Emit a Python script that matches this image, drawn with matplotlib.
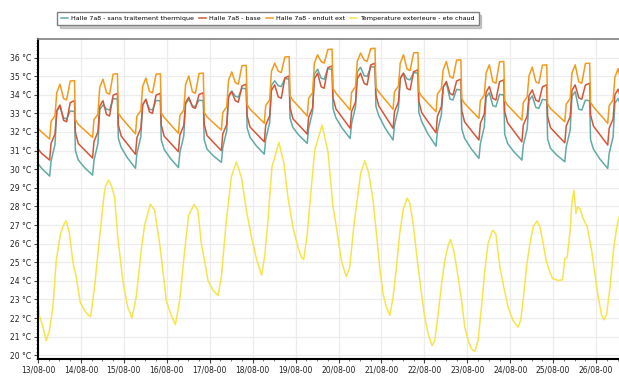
import matplotlib
matplotlib.use('Agg')
import matplotlib.pyplot as plt
import numpy as np

plt.rcParams['font.family'] = ['DejaVu Sans']

# sample hours inside each day for the hall series (min, ramp, jump, peak 1, dip, peak 2, drop, decay)
day_hours = [6.5, 7.3, 9.5, 10.5, 12.3, 14.3, 16.0, 18.0, 20.4, 20.9, 22.5, 26.0]
hours = [0, 2] + [d * 24 + h for d in range(13) for h in day_hours] + [13 * 24 + h for h in day_hours[:6]]

sans_traitement = [30.3, 30.05,
    29.63, 30.43, 31.33, 33.11, 33.36, 32.75, 32.70, 33.13, 33.10, 31.00, 30.50, 30.09,
    29.68, 30.48, 31.38, 33.20, 33.45, 33.23, 33.18, 33.80, 33.77, 31.67, 31.17, 30.61,
    30.05, 30.85, 31.75, 33.47, 33.72, 33.23, 33.18, 33.70, 33.67, 31.57, 31.07, 30.58,
    30.09, 30.89, 31.79, 33.51, 33.76, 33.41, 33.36, 33.71, 33.68, 31.58, 31.08, 30.72,
    30.37, 31.17, 32.07, 33.95, 34.20, 33.92, 33.87, 34.35, 34.32, 32.22, 31.72, 31.26,
    30.81, 31.61, 32.51, 34.50, 34.75, 34.49, 34.44, 34.87, 34.84, 32.74, 32.24, 31.81,
    31.39, 32.19, 33.09, 35.12, 35.37, 34.89, 34.84, 35.40, 35.37, 33.27, 32.77, 32.21,
    31.65, 32.45, 33.35, 35.23, 35.48, 35.03, 34.98, 35.51, 35.48, 33.38, 32.88, 32.22,
    31.57, 32.37, 33.27, 34.91, 35.16, 34.85, 34.80, 35.19, 35.16, 33.06, 32.56, 31.90,
    31.24, 32.04, 32.94, 34.41, 34.66, 33.77, 33.72, 34.29, 34.26, 32.16, 31.66, 31.12,
    30.58, 31.38, 32.28, 33.86, 34.11, 33.41, 33.36, 34.02, 33.99, 31.89, 31.39, 30.94,
    30.49, 31.29, 32.19, 33.69, 33.94, 33.32, 33.27, 33.75, 33.72, 31.62, 31.12, 30.76,
    30.40, 31.20, 32.10, 33.92, 34.17, 33.23, 33.18, 33.71, 33.68, 31.58, 31.08, 30.56,
    30.04, 30.84, 31.74, 33.55, 33.80, 33.30]

base = [31.1, 30.85,
    30.49, 31.39, 31.89, 33.15, 33.45, 32.63, 32.55, 33.58, 33.68, 31.98, 31.38, 31.04,
    30.60, 31.50, 32.00, 33.38, 33.68, 32.94, 32.86, 33.98, 34.08, 32.38, 31.78, 31.35,
    30.80, 31.70, 32.20, 33.46, 33.76, 33.08, 33.00, 33.98, 34.08, 32.38, 31.78, 31.41,
    30.94, 31.84, 32.34, 33.57, 33.87, 33.35, 33.27, 34.01, 34.11, 32.41, 31.81, 31.45,
    31.00, 31.90, 32.40, 33.87, 34.17, 33.68, 33.60, 34.47, 34.57, 32.87, 32.27, 31.92,
    31.47, 32.37, 32.87, 34.23, 34.53, 33.89, 33.81, 34.91, 35.01, 33.31, 32.71, 32.35,
    31.89, 32.79, 33.29, 34.86, 35.16, 34.43, 34.35, 35.45, 35.55, 33.85, 33.25, 32.79,
    32.20, 33.10, 33.60, 34.86, 35.16, 34.61, 34.53, 35.60, 35.70, 34.00, 33.40, 32.87,
    32.20, 33.10, 33.60, 34.86, 35.16, 34.34, 34.26, 35.24, 35.34, 33.64, 33.04, 32.56,
    31.96, 32.86, 33.36, 34.41, 34.71, 34.07, 33.99, 34.74, 34.84, 33.14, 32.54, 32.11,
    31.57, 32.47, 32.97, 34.14, 34.44, 33.80, 33.72, 34.70, 34.80, 33.10, 32.50, 32.05,
    31.47, 32.37, 32.87, 33.96, 34.26, 33.71, 33.63, 34.43, 34.53, 32.83, 32.23, 31.87,
    31.42, 32.32, 32.82, 34.23, 34.53, 33.84, 33.76, 34.52, 34.62, 32.92, 32.32, 31.87,
    31.30, 32.20, 32.70, 34.00, 34.30, 33.70]

enduit_ext = [32.2, 32.0,
    31.62, 32.57, 32.87, 34.12, 34.57, 33.80, 33.72, 34.74, 34.76, 32.66, 32.41, 32.10,
    31.71, 32.66, 32.96, 34.39, 34.84, 34.11, 34.03, 35.11, 35.13, 33.03, 32.78, 32.39,
    31.90, 32.85, 33.15, 34.45, 34.90, 34.18, 34.10, 35.11, 35.13, 33.03, 32.78, 32.41,
    31.93, 32.88, 33.18, 34.56, 35.01, 34.16, 34.08, 35.14, 35.16, 33.06, 32.81, 32.50,
    32.10, 33.05, 33.35, 34.78, 35.23, 34.65, 34.57, 35.56, 35.58, 33.48, 33.23, 32.90,
    32.47, 33.42, 33.72, 35.25, 35.70, 35.27, 35.19, 36.03, 36.05, 33.95, 33.70, 33.33,
    32.86, 33.81, 34.11, 35.70, 36.15, 35.78, 35.70, 36.43, 36.45, 34.35, 34.10, 33.70,
    33.18, 34.13, 34.43, 35.79, 36.24, 35.87, 35.79, 36.48, 36.50, 34.40, 34.15, 33.74,
    33.22, 34.17, 34.47, 35.70, 36.15, 35.38, 35.30, 36.25, 36.27, 34.17, 33.92, 33.55,
    33.09, 34.04, 34.34, 35.34, 35.79, 34.97, 34.89, 35.86, 35.88, 33.78, 33.53, 33.18,
    32.73, 33.68, 33.98, 35.16, 35.61, 34.70, 34.62, 35.77, 35.79, 33.69, 33.44, 33.09,
    32.64, 33.59, 33.89, 35.03, 35.48, 34.70, 34.62, 35.59, 35.61, 33.51, 33.26, 32.95,
    32.55, 33.50, 33.80, 35.16, 35.61, 34.70, 34.62, 35.68, 35.70, 33.60, 33.35, 32.96,
    32.47, 33.42, 33.72, 34.95, 35.40, 34.60]

# outside temperature: (hour, value)
exterieure = [
    (0, 23.0), (0.8, 22.1), (2.3, 21.69), (4.6, 20.79), (6.4, 21.33), (8.3, 22.58), (10.2, 25.1),
    (12.6, 26.54), (14.8, 27.11), (15.8, 27.22), (17.6, 26.54), (19.5, 25.0), (21.4, 24.2),
    (23.6, 22.85), (26.0, 22.41), (28.4, 22.14), (29.4, 22.08), (31.6, 23.66), (33.5, 25.46),
    (35.4, 27.25), (36.9, 28.6), (37.8, 29.1), (39.4, 29.41), (41.1, 29.1), (42.8, 28.51),
    (44.6, 26.36), (47.4, 24.02), (50.2, 22.58), (52.5, 22.0), (54.9, 23.12), (57.7, 25.64),
    (59.6, 26.99), (62.8, 28.12), (65.2, 27.79), (68.0, 26.0), (69.8, 24.56), (71.7, 22.94),
    (74.5, 22.14), (76.8, 21.65), (79.2, 22.94), (82.0, 25.64), (84.2, 27.52), (87.2, 28.1),
    (89.4, 27.8), (91.3, 26.0), (93.1, 25.1), (95.0, 24.02), (97.8, 23.5), (100.6, 23.21),
    (102.5, 24.2), (105.3, 27.26), (108.1, 29.59), (110.9, 30.4), (113.7, 29.59), (116.5, 27.8),
    (119.3, 26.36), (122.1, 25.2), (125.0, 24.3), (126.7, 25.3), (128.6, 27.3), (130.8, 30.13),
    (134.7, 31.44), (137.5, 30.31), (139.7, 28.5), (142.5, 26.9), (145.3, 25.82), (147.2, 25.28),
    (148.5, 25.14), (150.4, 26.4), (152.4, 28.6), (154.7, 31.03), (158.8, 32.37), (162.1, 30.94),
    (164.9, 28.0), (166.8, 26.9), (169.6, 25.1), (171.5, 24.47), (172.4, 24.24), (174.3, 24.74),
    (176.5, 26.9), (178.4, 28.33), (180.4, 29.8), (182.7, 30.45), (184.9, 29.8), (187.3, 28.33),
    (189.2, 26.54), (191.0, 24.74), (192.9, 23.31), (194.8, 22.58), (196.7, 22.14), (198.5, 23.12),
    (200.4, 24.74), (202.2, 26.54), (204.1, 27.8), (206.3, 28.45), (207.8, 28.2), (209.7, 27.08),
    (212.5, 24.74), (214.4, 23.31), (216.2, 22.05), (218.1, 21.15), (220.3, 20.52), (221.8, 20.79),
    (223.7, 22.23), (225.6, 23.84), (227.4, 25.1), (229.3, 25.91), (230.6, 26.22), (232.4, 25.64),
    (234.0, 24.74), (236.8, 22.94), (238.6, 21.51), (240.5, 20.79), (242.3, 20.34), (244.2, 20.21),
    (246.0, 20.79), (247.9, 22.58), (249.8, 24.56), (251.6, 26.0), (254.1, 26.72), (255.9, 26.54),
    (258.2, 24.74), (260.4, 23.66), (262.8, 22.58), (265.6, 21.87), (268.4, 21.51), (269.8, 21.87),
    (271.2, 22.94), (273.1, 24.74), (275.0, 26.0), (276.8, 26.9), (279.0, 27.22), (280.6, 26.9),
    (282.4, 26.0), (284.3, 25.0), (286.2, 24.47), (287.7, 24.12), (290.8, 24.02), (293.3, 24.06),
    (294.5, 25.19), (295.8, 25.25), (297.3, 26.54), (298.6, 28.33), (299.6, 28.87), (300.7, 27.62),
    (301.6, 27.97), (302.9, 27.89), (304.8, 27.35), (307.0, 26.9), (309.5, 25.64), (311.3, 24.38),
    (313.2, 23.12), (315.1, 22.14), (316.4, 21.91), (317.9, 22.23), (319.8, 23.66), (321.7, 25.64),
    (323.6, 26.9), (324.9, 27.43),
]

day_labels = ['13/08-00', '14/08-00', '15/08-00', '16/08-00', '17/08-00', '18/08-00', '19/08-00',
              '20/08-00', '21/08-00', '22/08-00', '23/08-00', '24/08-00', '25/08-00', '26/08-00']
temp_ticks = list(range(20, 37))

ext_t = [p[0] for p in exterieure]
ext_v = [p[1] for p in exterieure]

fig = plt.figure(figsize=(6.19, 3.77), dpi=100)
ax = fig.add_axes([0.0614, 0.0477, 0.9386, 0.849])

ax.plot(hours, sans_traitement, color='#62aaa6', lw=1.1, label='Halle 7a8 - sans traitement thermique')
ax.plot(hours, base, color='#d2563a', lw=1.1, label='Halle 7a8 - base')
ax.plot(hours, enduit_ext, color='#f29b1d', lw=1.1, label='Halle 7a8 - enduit ext')
ax.plot(ext_t, ext_v, color='#f6e54a', lw=1.1, label='Temperature exterieure - ete chaud')

ax.set_xlim(0, 324.8)
ax.set_ylim(19.8, 37.0)
ax.set_xticks(np.arange(len(day_labels)) * 24)
ax.set_xticklabels(day_labels)
ax.set_xticks(np.arange(0, 325, 6), minor=True)
ax.set_yticks(temp_ticks)
ax.set_yticklabels([f'{v} °C' for v in temp_ticks])
ax.set_yticks(np.arange(19.8, 37.0, 0.2), minor=True)

ax.grid(True, which='major', color='#ececec', lw=0.9)
ax.set_axisbelow(True)

for s in ['left', 'bottom']:
    ax.spines[s].set_color('black')
    ax.spines[s].set_linewidth(1.5)
ax.spines['top'].set_color('#808080')
ax.spines['top'].set_linewidth(1.2)
ax.spines['right'].set_visible(False)

ax.tick_params(which='major', labelsize=5.5, length=3, width=0.8, color='#444444', labelcolor='#222222', pad=2)
ax.tick_params(which='minor', length=1.5, width=0.6, color='#666666')

fig.legend(loc='center', bbox_to_anchor=(0.433, 0.951), ncol=4, fontsize=4.6, frameon=True,
           fancybox=False, shadow={'color': '0.6', 'alpha': 0.5}, edgecolor='#808080',
           handlelength=1.1, handletextpad=0.45, columnspacing=0.8, borderpad=0.6)

fig.savefig('out.png', dpi=100)
